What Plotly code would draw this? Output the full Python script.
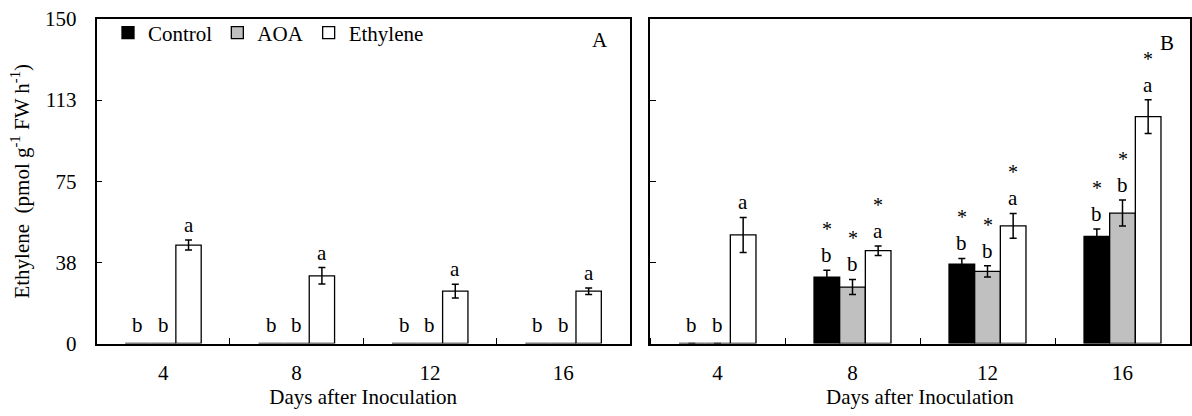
import plotly.graph_objects as go

# ---- data -----------------------------------------------------------------
days = ["4", "8", "12", "16"]
series = ["Control", "AOA", "Ethylene"]
fills = ["#000000", "#c0c0c0", "#ffffff"]

# Panel A
a_control = [0, 0, 0, 0]
a_aoa = [0, 0, 0, 0]
a_ethylene = [45.5, 31.3, 24.2, 24.2]
a_control_err = [0, 0, 0, 0]
a_aoa_err = [0, 0, 0, 0]
a_ethylene_err = [2.3, 3.8, 3.2, 1.5]
a_control_letters = ["b", "b", "b", "b"]
a_aoa_letters = ["b", "b", "b", "b"]
a_ethylene_letters = ["a", "a", "a", "a"]

# Panel B
b_control = [0, 30.7, 36.7, 49.5]
b_aoa = [0, 26.1, 33.3, 60.3]
b_ethylene = [50.2, 42.9, 54.4, 104.9]
b_control_err = [0, 3.2, 2.6, 3.4]
b_aoa_err = [0, 3.5, 2.6, 6.0]
b_ethylene_err = [8.1, 2.2, 5.7, 7.8]
b_control_letters = ["b", "b", "b", "b"]
b_aoa_letters = ["b", "b", "b", "b"]
b_ethylene_letters = ["a", "a", "a", "a"]
b_control_stars = ["", "*", "*", "*"]
b_aoa_stars = ["", "*", "*", "*"]
b_ethylene_stars = ["", "*", "*", "*"]

y_tickvals = [0, 37.5, 75, 112.5, 150]
y_ticktext = ["0", "38", "75", "113", "150"]
y_title = "Ethylene\u00a0\u00a0(pmol g<sup>-1</sup> FW h<sup>-1</sup>)"
x_title = "Days after Inoculation"

# ---- figure ---------------------------------------------------------------
W, H = 1192, 416
FONT = "Liberation Serif, Times New Roman, serif"
FS = 21
BARGAP = 0.43
pos = list(range(len(days)))
bar_w = (1 - BARGAP) / len(series)

panels = [
    dict(x="x", y="y",
         vals=[a_control, a_aoa, a_ethylene],
         errs=[a_control_err, a_aoa_err, a_ethylene_err],
         letters=[a_control_letters, a_aoa_letters, a_ethylene_letters],
         stars=None),
    dict(x="x2", y="y2",
         vals=[b_control, b_aoa, b_ethylene],
         errs=[b_control_err, b_aoa_err, b_ethylene_err],
         letters=[b_control_letters, b_aoa_letters, b_ethylene_letters],
         stars=[b_control_stars, b_aoa_stars, b_ethylene_stars]),
]

fig = go.Figure()
annotations = []

for p_idx, p in enumerate(panels):
    for j, name in enumerate(series):
        errs = p["errs"][j]
        fig.add_trace(go.Bar(
            x=pos, y=p["vals"][j], name=name,
            xaxis=p["x"], yaxis=p["y"],
            marker=dict(color=fills[j], line=dict(color="black", width=1.3)),
            error_y=dict(type="data", array=errs, visible=any(errs),
                         color="black", thickness=1.5, width=3.5),
            showlegend=(p_idx == 0), legendgroup=name,
        ))
        off = (j - (len(series) - 1) / 2) * bar_w
        for i in pos:
            top = p["vals"][j][i] + errs[i]
            # a bar with no height gets its letter a little higher
            lift = 1 if top > 0 else 5
            annotations.append(dict(
                x=i + off, y=top, xref=p["x"], yref=p["y"],
                text=p["letters"][j][i], showarrow=False,
                yanchor="bottom", yshift=lift,
                font=dict(family=FONT, size=FS, color="black")))
            if p["stars"] and p["stars"][j][i]:
                annotations.append(dict(
                    x=i + off, y=top, xref=p["x"], yref=p["y"],
                    text=p["stars"][j][i], showarrow=False,
                    yanchor="bottom", yshift=28,
                    font=dict(family=FONT, size=20, color="black")))

# panel letters
annotations.append(dict(x=600 / W, y=1 - 40 / H, xref="paper", yref="paper",
                        text="A", showarrow=False, xanchor="center", yanchor="middle",
                        font=dict(family=FONT, size=FS, color="black")))
annotations.append(dict(x=1167 / W, y=1 - 43 / H, xref="paper", yref="paper",
                        text="B", showarrow=False, xanchor="center", yanchor="middle",
                        font=dict(family=FONT, size=FS, color="black")))

y_dom = [1 - 343.5 / H, 1 - 19 / H]

def xaxis_style(domain, anchor):
    return dict(
        domain=domain, anchor=anchor, range=[-0.5, len(days) - 0.5],
        tickmode="array", tickvals=pos, ticktext=days, ticks="",
        ticklabelstandoff=10,
        minor=dict(tickmode="array", tickvals=[i - 0.5 for i in range(len(days) + 1)],
                   ticks="inside", ticklen=6, tickcolor="black", tickwidth=1.3),
        showline=True, linecolor="black", linewidth=1.5, mirror=True,
        showgrid=False, zeroline=False,
        tickfont=dict(family=FONT, size=FS, color="black"),
        title=dict(text=x_title, standoff=5,
                   font=dict(family=FONT, size=FS, color="black")),
        automargin=False, fixedrange=True,
    )

def yaxis_style(anchor, labels):
    ax = dict(
        domain=y_dom, anchor=anchor, range=[0, 150],
        tickmode="array", tickvals=y_tickvals, ticktext=y_ticktext,
        ticks="inside", ticklen=6, tickcolor="black", tickwidth=1.3,
        showticklabels=labels, ticklabelstandoff=14,
        showline=True, linecolor="black", linewidth=1.5, mirror=True,
        showgrid=False, zeroline=False,
        tickfont=dict(family=FONT, size=FS, color="black"),
        automargin=False, fixedrange=True,
    )
    if labels:
        ax["title"] = dict(text=y_title, standoff=10,
                           font=dict(family=FONT, size=FS, color="black"))
    return ax

fig.update_layout(
    width=W, height=H,
    margin=dict(l=0, r=0, t=0, b=0),
    paper_bgcolor="white", plot_bgcolor="white",
    barmode="group", bargap=BARGAP, bargroupgap=0,
    font=dict(family=FONT, size=FS, color="black"),
    xaxis=xaxis_style([96.5 / W, 630 / W], "y"),
    xaxis2=xaxis_style([650 / W, 1190 / W], "y2"),
    yaxis=yaxis_style("x", True),
    yaxis2=yaxis_style("x2", False),
    legend=dict(orientation="h", x=108 / W, xanchor="left",
                y=1 - 33 / H, yanchor="middle",
                font=dict(family=FONT, size=FS, color="black"),
                bgcolor="rgba(0,0,0,0)", itemwidth=30, itemclick=False),
    annotations=annotations,
)

fig.write_html("out.html")
